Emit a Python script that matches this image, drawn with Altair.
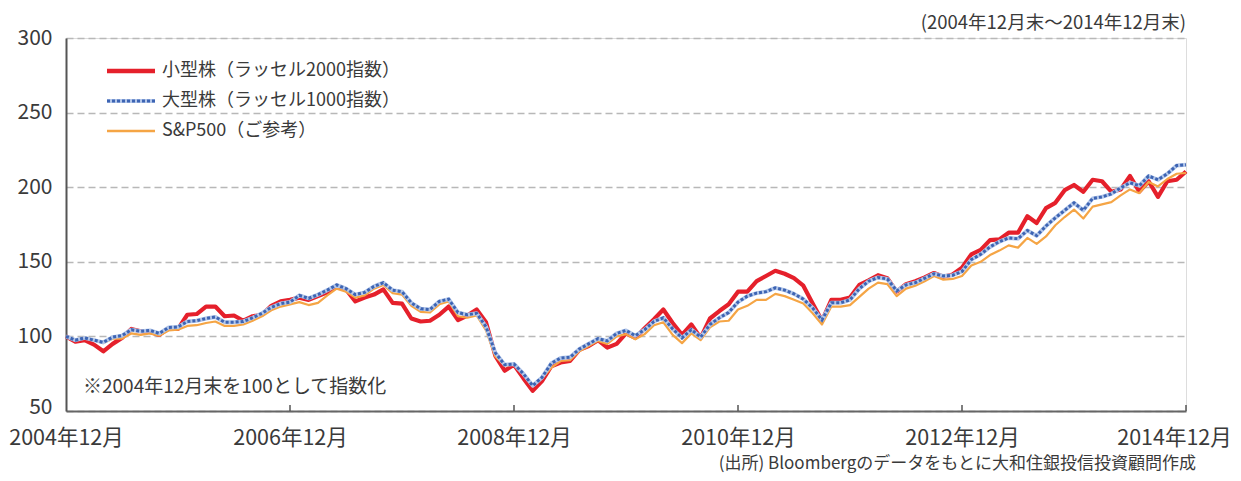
import altair as alt
import pandas as pd

# month index 0 = 2004年12月末 ... 120 = 2014年12月末
small_cap = [100, 96.5, 97.5, 94.5, 90, 95, 99, 105, 103.5, 103, 101, 105.5, 105,
             114.5, 115, 120, 120, 113.5, 114, 110.5, 113.5, 114.5, 120.5, 123.5, 124.5,
             126, 124.5, 127, 129.5, 134, 131.5, 123.5, 126, 128, 131.5, 122.5, 122,
             112, 110, 110.5, 114.5, 120, 111, 114, 118, 109.5, 87, 77, 81,
             72, 63.5, 70, 80, 82.5, 83.5, 91, 93.5, 97.5, 92.5, 95, 102,
             99, 105.5, 111.5, 118, 109, 101, 108, 99, 112, 117, 121.5, 130,
             130, 137, 140.5, 144, 142, 139, 134, 122, 110.5, 124.5, 124.5, 126,
             134.5, 137.5, 141, 139, 130, 135, 137, 139.5, 142.5, 140, 141.5, 146,
             155, 158, 164.5, 165, 169.5, 169.5, 180.5, 176, 186, 189.5, 198, 201.5,
             197, 205, 204, 197, 198.5, 207.5, 197, 204, 193.5, 204, 205, 210.5]
large_cap = [100, 97.5, 99, 97.5, 96, 99.5, 100.5, 104.5, 103.5, 104, 102, 106, 106.3,
             110, 110.5, 112, 113, 109.5, 109.5, 110, 112.5, 115.5, 119.5, 122, 123,
             127.5, 125.5, 128, 131, 134.5, 132, 128, 129.5, 133.5, 136, 131, 130,
             122.5, 118.5, 118, 123.5, 125, 116, 114.5, 115.5, 106.5, 89, 81, 81.5,
             75, 67, 72.5, 82, 85.5, 86, 91.5, 95, 98.5, 97, 102, 104,
             100.5, 104.5, 110, 112.5, 105, 99, 104.5, 99.5, 108, 112.5, 116, 123,
             127, 129, 130, 132.5, 131, 128.5, 125, 119, 111, 122.5, 122.5, 124.5,
             132, 137, 139.5, 138.5, 130.5, 134.5, 136, 139, 142, 140.5, 141, 143.5,
             151.5, 155, 160, 163.5, 166, 165.5, 171, 167.5, 174, 179.5, 184.5, 189.5,
             184.5, 192.5, 193.5, 195.5, 199.5, 203, 201, 207.5, 205, 209, 214.5, 215]
sp500 = [100, 97.5, 99.5, 97.5, 95.5, 98.5, 98.5, 102, 101, 102, 100.5, 104, 104.5,
         107, 107.5, 109, 110, 107, 107, 108, 110.5, 113.5, 117.5, 120, 121.5,
         123, 121, 122.5, 127.5, 132, 130, 126, 127.5, 132, 134.5, 129, 128,
         120.5, 116.5, 116, 121.5, 123.5, 113.5, 112.5, 114, 104, 86.5, 80.5, 81,
         74.5, 66.5, 72, 79, 83.5, 84, 90, 93.5, 97, 95, 100, 101.5,
         98, 101.5, 107.5, 109.5, 101, 95.5, 102, 97.5, 106, 110, 110.5, 118,
         120.5, 124.5, 124.5, 128.5, 127, 124.5, 122, 115.5, 108, 120, 120, 121,
         126.5, 132, 136, 135, 127, 132, 134, 137, 140.5, 138, 138.5, 140.5,
         147.5, 150, 154.5, 157.5, 161, 159.5, 166, 162, 167, 174.5, 180, 185,
         179, 187, 188.5, 190, 194.5, 198.5, 196, 203.5, 200.5, 205.5, 209, 209.5]

series_names = ["小型株（ラッセル2000指数）", "大型株（ラッセル1000指数）", "S&P500（ご参考）"]
y_ticks = [50, 100, 150, 200, 250, 300]
x_ticks = [0, 24, 48, 72, 96, 120]
inner_ticks = [24, 48, 72, 96, 120]
title_text = "(2004年12月末～2014年12月末)"
note_text = "※2004年12月末を100として指数化"
source_text = "(出所) Bloombergのデータをもとに大和住銀投信投資顧問作成"

FONT = "Noto Sans CJK JP"
RED = "#e5202b"
BLUE = "#3d64b3"
BLUE_LIGHT = "#b3c7ea"
ORANGE = "#f5a545"
TXT = "#3a3a3a"

months = list(range(len(small_cap)))
df_s = pd.DataFrame({"m": months, "v": small_cap})
df_l = pd.DataFrame({"m": months, "v": large_cap})
df_p = pd.DataFrame({"m": months, "v": sp500})

xscale = alt.Scale(domain=[0, 120], nice=False, zero=False)
yscale = alt.Scale(domain=[50, 300], nice=False, zero=False)

x_axis = alt.Axis(values=x_ticks, labelExpr="(2004 + datum.value / 12) + '年12月'",
                  title=None, grid=False, tickSize=0, labelPadding=16,
                  labelFont=FONT, labelFontSize=21.5, labelColor=TXT,
                  domainColor="#666666", domainWidth=2, labelFlush=False,
                  labelOverlap=False,
                  labelOffset={"condition": {"test": "datum.value === 120", "value": -12}, "value": 0})
y_axis = alt.Axis(values=y_ticks, title=None, grid=True, gridColor="#b8b8b8",
                  gridDash=[7, 4], gridWidth=1.5, tickSize=0, labelPadding=14,
                  labelFont=FONT, labelFontSize=21, labelColor=TXT,
                  domainColor="#555555", domainWidth=2,
                  labelOffset={"condition": {"test": "datum.value === 50", "value": -4}, "value": 0})

base_x = alt.X("m:Q", scale=xscale, axis=x_axis)
base_y = alt.Y("v:Q", scale=yscale, axis=y_axis)

red_line = alt.Chart(df_s).mark_line(color=RED, strokeWidth=4.2, strokeJoin="round").encode(x=base_x, y=base_y)
orange_line = alt.Chart(df_p).mark_line(color=ORANGE, strokeWidth=2.2, strokeJoin="round").encode(
    x=alt.X("m:Q", scale=xscale), y=alt.Y("v:Q", scale=yscale))
blue_under = alt.Chart(df_l).mark_line(color=BLUE_LIGHT, strokeWidth=4, strokeJoin="round").encode(
    x=alt.X("m:Q", scale=xscale), y=alt.Y("v:Q", scale=yscale))
blue_line = alt.Chart(df_l).mark_line(color=BLUE, strokeWidth=3, strokeDash=[3, 2]).encode(
    x=alt.X("m:Q", scale=xscale), y=alt.Y("v:Q", scale=yscale))

tick_df = pd.DataFrame({"m": inner_ticks})
x_inner_ticks = alt.Chart(tick_df).mark_rule(color="#555555", strokeWidth=1.5).encode(
    x=alt.X("m:Q", scale=xscale), y=alt.datum(50), y2=alt.datum(54))


def text_layer(t, x, y, size, align="left", color=TXT):
    return alt.Chart(pd.DataFrame({"t": [t]})).mark_text(
        font=FONT, fontSize=size, align=align, baseline="middle", color=color
    ).encode(text="t:N", x=alt.value(x), y=alt.value(y))


def legend_row(name, color, y, width, dash=None, under=None):
    layers = []
    if under:
        layers.append(alt.Chart(pd.DataFrame({"t": [name]})).mark_rule(
            color=under, strokeWidth=4).encode(x=alt.value(41), x2=alt.value(89), y=alt.value(y)))
    kw = dict(color=color, strokeWidth=width)
    if dash:
        kw["strokeDash"] = dash
    layers.append(alt.Chart(pd.DataFrame({"t": [name]})).mark_rule(**kw).encode(
        x=alt.value(41), x2=alt.value(89), y=alt.value(y)))
    layers.append(text_layer(name, 96, y, 18))
    return layers


legend_layers = []
legend_layers += legend_row(series_names[0], RED, 33, 4.5)
legend_layers += legend_row(series_names[1], BLUE, 63, 3, dash=[3, 2], under=BLUE_LIGHT)
legend_layers += legend_row(series_names[2], ORANGE, 93, 2.5)

chart = alt.layer(
    red_line, orange_line, blue_under, blue_line, x_inner_ticks,
    *legend_layers,
    text_layer(title_text, 1120, -15, 18.5, align="right"),
    text_layer(note_text, 17, 349, 19),
    text_layer(source_text, 1130, 426, 17, align="right"),
).properties(
    width=1120, height=373,
    autosize=alt.AutoSizeParams(type="none"),
    padding={"left": 58, "top": 30, "right": 47, "bottom": 62},
).configure_view(stroke=None).configure(background="white")

chart.save("out.html", embed_options={"renderer": "svg", "actions": False})
